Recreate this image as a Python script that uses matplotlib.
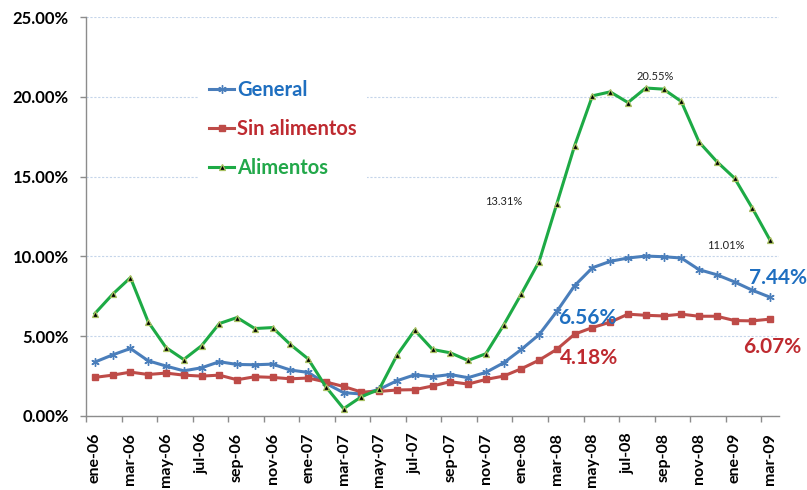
import numpy as np
import matplotlib
matplotlib.use("Agg")
import matplotlib.pyplot as plt

months = ["ene", "feb", "mar", "abr", "may", "jun", "jul", "ago", "sep", "oct", "nov", "dic"]
categories = [f"{m}-{y:02d}" for y in (6, 7, 8) for m in months] + ["ene-09", "feb-09", "mar-09"]

general = [3.38, 3.83, 4.23, 3.46, 3.13, 2.83, 3.02, 3.40, 3.23, 3.21, 3.25, 2.88,
           2.73, 2.04, 1.46, 1.38, 1.67, 2.21, 2.58, 2.46, 2.60, 2.40, 2.73, 3.33,
           4.17, 5.10, 6.56, 8.17, 9.29, 9.69, 9.90, 10.02, 9.98, 9.90, 9.17, 8.85,
           8.40, 7.88, 7.44]
sin_alimentos = [2.42, 2.56, 2.75, 2.60, 2.69, 2.56, 2.50, 2.56, 2.27, 2.46, 2.42, 2.33,
                 2.38, 2.13, 1.85, 1.50, 1.54, 1.63, 1.65, 1.88, 2.15, 2.00, 2.29, 2.50,
                 2.96, 3.50, 4.18, 5.13, 5.54, 5.88, 6.38, 6.31, 6.27, 6.38, 6.25, 6.25,
                 5.98, 5.96, 6.07]
alimentos = [6.42, 7.63, 8.67, 5.90, 4.29, 3.54, 4.40, 5.79, 6.17, 5.48, 5.54, 4.48,
             3.58, 1.83, 0.46, 1.21, 1.67, 3.81, 5.38, 4.17, 3.96, 3.48, 3.90, 5.69,
             7.65, 9.68, 13.31, 16.94, 20.06, 20.31, 19.64, 20.55, 20.48, 19.71, 17.17, 15.94,
             14.90, 13.02, 11.01]

series_names = ["General", "Sin alimentos", "Alimentos"]
y_ticks = [0, 5, 10, 15, 20, 25]

FONT = "Lato"
plt.rcParams["font.family"] = [FONT, "DejaVu Sans"]

blue_line, red_line, green_line = "#4A7EBB", "#BE4B48", "#1DAA45"
blue_txt, red_txt, green_txt = "#1F6FC0", "#BE2A30", "#22A84A"

fig = plt.figure(figsize=(8.07, 4.90), dpi=100)
ax = fig.add_axes([86 / 807, 1 - 416 / 490, (779 - 86) / 807, (416 - 17) / 490])

x = np.arange(len(categories))

ax.plot(x, general, color=blue_line, lw=2.2, marker=(6, 2, 0), ms=6, mew=1.0,
        mec=blue_line, label=series_names[0], zorder=3)
ax.plot(x, sin_alimentos, color=red_line, lw=2.2, marker="s", ms=5, mfc=red_line,
        mec=red_line, label=series_names[1], zorder=3)
ax.plot(x, alimentos, color=green_line, lw=2.2, marker="^", ms=5, mfc="black",
        mec="#A8C060", mew=0.9, label=series_names[2], zorder=4)

ax.set_xlim(-0.5, len(categories) - 0.5)
ax.set_ylim(0, 25)

# y axis
ax.set_yticks(y_ticks)
ax.set_yticklabels([f"{v:.2f}%" for v in y_ticks], fontsize=12, fontweight="bold")
ax.tick_params(axis="y", length=4.5, width=1, color="#8C8C8C", pad=8)
ax.grid(axis="y", color="#C5D5EA", linestyle=(0, (2, 1.5)), lw=0.8, zorder=0)

# x axis: ticks between categories every 2, labels under categories
ax.set_xticks(np.arange(-0.5, len(categories) - 0.5, 2))
ax.set_xticklabels([])
ax.tick_params(axis="x", which="major", length=4.5, width=1, color="#8C8C8C")
ax.set_xticks(x[::2], minor=True)
ax.set_xticklabels(categories[::2], minor=True, rotation=90, fontsize=11.5, fontweight="bold")
ax.tick_params(axis="x", which="minor", length=0, pad=12)

for s in ("top", "right"):
    ax.spines[s].set_visible(False)
for s in ("left", "bottom"):
    ax.spines[s].set_color("#8C8C8C")
    ax.spines[s].set_linewidth(1.0)

# data labels
def lab(xi, yi, text, dx, dy, color, size, weight):
    ax.annotate(text, xy=(xi, yi), xytext=(dx, dy), textcoords="offset points",
                ha="center", va="center", color=color, fontsize=size, fontweight=weight,
                annotation_clip=False, zorder=6)

i_mar08 = categories.index("mar-08")
i_ago08 = categories.index("ago-08")
i_last = len(categories) - 1

lab(i_mar08, alimentos[i_mar08], f"{alimentos[i_mar08]:.2f}%", -38, 1.5, "#222222", 8, "normal")
lab(i_ago08, alimentos[i_ago08], f"{alimentos[i_ago08]:.2f}%", 7, 8.5, "#222222", 8, "normal")
lab(i_last, alimentos[i_last], f"{alimentos[i_last]:.2f}%", -32, -4, "#222222", 8, "normal")
lab(i_mar08, general[i_mar08], f"{general[i_mar08]:.2f}%", 22, -4.8, blue_txt, 15, "bold")
lab(i_mar08, sin_alimentos[i_mar08], f"{sin_alimentos[i_mar08]:.2f}%", 23, -6, red_txt, 15, "bold")
lab(i_last, general[i_last], f"{general[i_last]:.2f}%", 5.5, 14.2, blue_txt, 15, "bold")
lab(i_last, sin_alimentos[i_last], f"{sin_alimentos[i_last]:.2f}%", 1.5, -20, red_txt, 15, "bold")

leg = ax.legend(loc="upper left", bbox_to_anchor=(199 / 807, 1 - 70 / 490),
                bbox_transform=fig.transFigure, borderaxespad=0, frameon=True,
                facecolor="white", edgecolor="none", framealpha=1,
                prop={"family": FONT, "weight": "bold", "size": 14.5},
                handlelength=1.25, handletextpad=0.15, labelspacing=0.95, borderpad=0.5,
                labelcolor=[blue_txt, red_txt, green_txt])
leg.set_zorder(5)

fig.savefig("out.png", dpi=100)
